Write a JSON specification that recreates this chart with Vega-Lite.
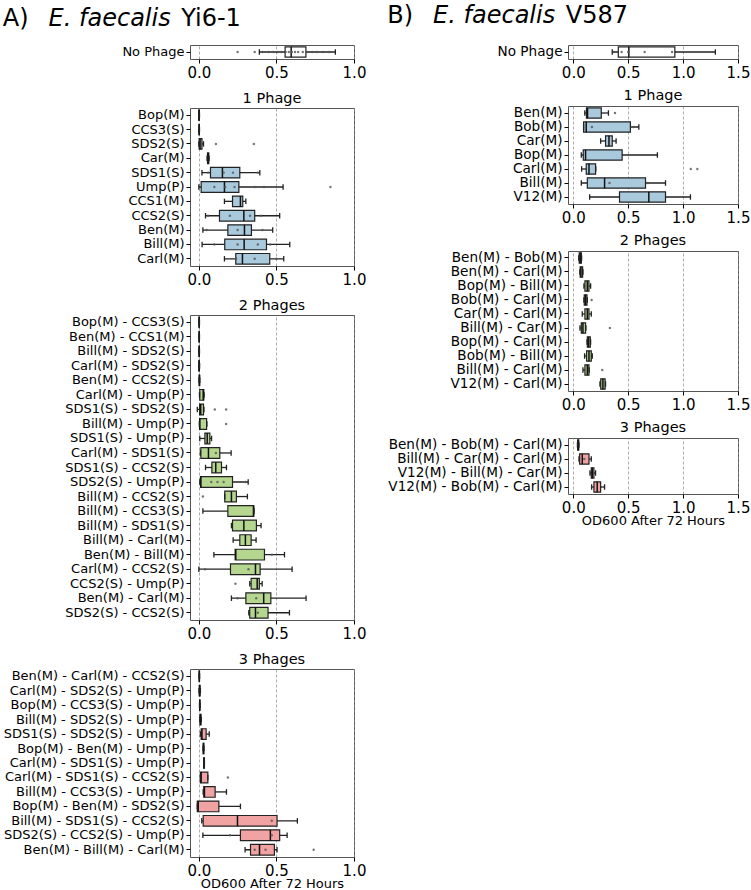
{
"$schema": "https://vega.github.io/schema/vega-lite/v6.json",
"padding": {"left": 2, "top": 4, "right": 0, "bottom": 0},
"background": "white",
"config": {
 "font": "DejaVu Sans",
 "view": {"stroke": "#555", "strokeWidth": 1},
 "title": {"fontSize": 14.5, "fontWeight": "normal", "offset": 2, "color": "black", "font": "DejaVu Sans"},
 "axis": {"labelFont": "DejaVu Sans", "titleFont": "DejaVu Sans", "labelColor": "black", "titleColor": "black", "tickColor": "black", "domain": false, "tickSize": 4, "labelPadding": 2, "tickWidth": 1},
 "axisX": {"labelFontSize": 15, "grid": true, "gridDash": [3, 2], "gridColor": "#888", "gridWidth": 0.7, "titleFontSize": 13, "titleFontWeight": "normal", "titlePadding": -1, "labelFlush": false, "labelOverlap": false, "labelBound": false},
 "axisY": {"labelFontSize": 13, "grid": false, "labelLimit": 400}
},
"datasets": {
 "stats": [
  {"s":"A","g":"0","n":"No Phage","lw":0.39,"q1":0.556,"med":0.595,"q3":0.69,"uw":0.88},
  {"s":"A","g":"1","n":"Bop(M)","lw":0,"q1":0,"med":0.001,"q3":0.003,"uw":0.004},
  {"s":"A","g":"1","n":"CCS3(S)","lw":0,"q1":0.001,"med":0.002,"q3":0.003,"uw":0.004},
  {"s":"A","g":"1","n":"SDS2(S)","lw":0,"q1":0.002,"med":0.008,"q3":0.02,"uw":0.03},
  {"s":"A","g":"1","n":"Car(M)","lw":0.053,"q1":0.056,"med":0.06,"q3":0.064,"uw":0.066},
  {"s":"A","g":"1","n":"SDS1(S)","lw":0.02,"q1":0.075,"med":0.152,"q3":0.264,"uw":0.393},
  {"s":"A","g":"1","n":"Ump(P)","lw":0.0,"q1":0.015,"med":0.165,"q3":0.258,"uw":0.543},
  {"s":"A","g":"1","n":"CCS1(M)","lw":0.165,"q1":0.217,"med":0.268,"q3":0.283,"uw":0.303},
  {"s":"A","g":"1","n":"CCS2(S)","lw":0.043,"q1":0.133,"med":0.29,"q3":0.36,"uw":0.521},
  {"s":"A","g":"1","n":"Ben(M)","lw":0.026,"q1":0.187,"med":0.294,"q3":0.339,"uw":0.476},
  {"s":"A","g":"1","n":"Bill(M)","lw":0.021,"q1":0.167,"med":0.292,"q3":0.436,"uw":0.586},
  {"s":"A","g":"1","n":"Carl(M)","lw":0.165,"q1":0.238,"med":0.281,"q3":0.457,"uw":0.547},
  {"s":"A","g":"2","n":"Bop(M) - CCS3(S)","lw":0,"q1":0.001,"med":0.002,"q3":0.003,"uw":0.004},
  {"s":"A","g":"2","n":"Ben(M) - CCS1(M)","lw":0,"q1":0.001,"med":0.002,"q3":0.003,"uw":0.004},
  {"s":"A","g":"2","n":"Bill(M) - SDS2(S)","lw":0,"q1":0.001,"med":0.002,"q3":0.003,"uw":0.004},
  {"s":"A","g":"2","n":"Carl(M) - SDS2(S)","lw":-0.001,"q1":0.0,"med":0.002,"q3":0.003,"uw":0.005},
  {"s":"A","g":"2","n":"Ben(M) - CCS2(S)","lw":0.001,"q1":0.002,"med":0.004,"q3":0.005,"uw":0.006},
  {"s":"A","g":"2","n":"Carl(M) - Ump(P)","lw":0.004,"q1":0.006,"med":0.028,"q3":0.032,"uw":0.034},
  {"s":"A","g":"2","n":"SDS1(S) - SDS2(S)","lw":-0.01,"q1":0.005,"med":0.012,"q3":0.03,"uw":0.033},
  {"s":"A","g":"2","n":"Bill(M) - Ump(P)","lw":0.003,"q1":0.005,"med":0.006,"q3":0.05,"uw":0.052},
  {"s":"A","g":"2","n":"SDS1(S) - Ump(P)","lw":0.006,"q1":0.039,"med":0.054,"q3":0.071,"uw":0.082},
  {"s":"A","g":"2","n":"Carl(M) - SDS1(S)","lw":0.01,"q1":0.013,"med":0.062,"q3":0.135,"uw":0.208},
  {"s":"A","g":"2","n":"SDS1(S) - CCS2(S)","lw":0.043,"q1":0.084,"med":0.109,"q3":0.146,"uw":0.178},
  {"s":"A","g":"2","n":"SDS2(S) - Ump(P)","lw":0.006,"q1":0.011,"med":0.013,"q3":0.217,"uw":0.318},
  {"s":"A","g":"2","n":"Bill(M) - CCS2(S)","lw":0.167,"q1":0.167,"med":0.21,"q3":0.242,"uw":0.313},
  {"s":"A","g":"2","n":"Bill(M) - CCS3(S)","lw":0.026,"q1":0.187,"med":0.352,"q3":0.354,"uw":0.356},
  {"s":"A","g":"2","n":"Bill(M) - SDS1(S)","lw":0.21,"q1":0.217,"med":0.29,"q3":0.371,"uw":0.401},
  {"s":"A","g":"2","n":"Bill(M) - Carl(M)","lw":0.221,"q1":0.264,"med":0.3,"q3":0.337,"uw":0.369},
  {"s":"A","g":"2","n":"Ben(M) - Bill(M)","lw":0.097,"q1":0.234,"med":0.238,"q3":0.423,"uw":0.552},
  {"s":"A","g":"2","n":"Carl(M) - CCS2(S)","lw":0.0,"q1":0.204,"med":0.365,"q3":0.395,"uw":0.601},
  {"s":"A","g":"2","n":"CCS2(S) - Ump(P)","lw":0.328,"q1":0.337,"med":0.376,"q3":0.39,"uw":0.408},
  {"s":"A","g":"2","n":"Ben(M) - Carl(M)","lw":0.21,"q1":0.303,"med":0.418,"q3":0.464,"uw":0.691},
  {"s":"A","g":"2","n":"SDS2(S) - CCS2(S)","lw":0.322,"q1":0.328,"med":0.365,"q3":0.446,"uw":0.584},
  {"s":"A","g":"3","n":"Ben(M) - Carl(M) - CCS2(S)","lw":0.001,"q1":0.002,"med":0.003,"q3":0.004,"uw":0.005},
  {"s":"A","g":"3","n":"Carl(M) - SDS2(S) - Ump(P)","lw":0.001,"q1":0.003,"med":0.005,"q3":0.008,"uw":0.01},
  {"s":"A","g":"3","n":"Bop(M) - CCS3(S) - Ump(P)","lw":0.004,"q1":0.005,"med":0.006,"q3":0.007,"uw":0.008},
  {"s":"A","g":"3","n":"Bill(M) - SDS2(S) - Ump(P)","lw":0.006,"q1":0.008,"med":0.01,"q3":0.014,"uw":0.016},
  {"s":"A","g":"3","n":"SDS1(S) - SDS2(S) - Ump(P)","lw":0.01,"q1":0.015,"med":0.02,"q3":0.047,"uw":0.067},
  {"s":"A","g":"3","n":"Bop(M) - Ben(M) - Ump(P)","lw":0.027,"q1":0.028,"med":0.03,"q3":0.032,"uw":0.033},
  {"s":"A","g":"3","n":"Carl(M) - SDS1(S) - Ump(P)","lw":0.031,"q1":0.032,"med":0.033,"q3":0.035,"uw":0.036},
  {"s":"A","g":"3","n":"Carl(M) - SDS1(S) - CCS2(S)","lw":0.01,"q1":0.01,"med":0.015,"q3":0.058,"uw":0.058},
  {"s":"A","g":"3","n":"Bill(M) - CCS3(S) - Ump(P)","lw":0.028,"q1":0.032,"med":0.036,"q3":0.105,"uw":0.178},
  {"s":"A","g":"3","n":"Bop(M) - Ben(M) - SDS2(S)","lw":-0.01,"q1":-0.01,"med":-0.004,"q3":0.129,"uw":0.268},
  {"s":"A","g":"3","n":"Bill(M) - SDS1(S) - CCS2(S)","lw":0.019,"q1":0.028,"med":0.249,"q3":0.504,"uw":0.635},
  {"s":"A","g":"3","n":"SDS2(S) - CCS2(S) - Ump(P)","lw":0.026,"q1":0.268,"med":0.461,"q3":0.521,"uw":0.569},
  {"s":"A","g":"3","n":"Ben(M) - Bill(M) - Carl(M)","lw":0.298,"q1":0.333,"med":0.391,"q3":0.487,"uw":0.504},
  {"s":"B","g":"0","n":"No Phage","lw":0.355,"q1":0.41,"med":0.506,"q3":0.925,"uw":1.294},
  {"s":"B","g":"1","n":"Ben(M)","lw":0.105,"q1":0.12,"med":0.13,"q3":0.255,"uw":0.32},
  {"s":"B","g":"1","n":"Bob(M)","lw":0.094,"q1":0.094,"med":0.118,"q3":0.52,"uw":0.597},
  {"s":"B","g":"1","n":"Car(M)","lw":0.249,"q1":0.294,"med":0.325,"q3":0.355,"uw":0.39},
  {"s":"B","g":"1","n":"Bop(M)","lw":0.073,"q1":0.091,"med":0.112,"q3":0.445,"uw":0.766},
  {"s":"B","g":"1","n":"Carl(M)","lw":0.076,"q1":0.118,"med":0.143,"q3":0.203,"uw":0.205},
  {"s":"B","g":"1","n":"Bill(M)","lw":0.073,"q1":0.128,"med":0.285,"q3":0.658,"uw":0.84},
  {"s":"B","g":"1","n":"V12(M)","lw":0.149,"q1":0.421,"med":0.688,"q3":0.84,"uw":1.067},
  {"s":"B","g":"2","n":"Ben(M) - Bob(M)","lw":0.05,"q1":0.054,"med":0.063,"q3":0.074,"uw":0.076},
  {"s":"B","g":"2","n":"Ben(M) - Carl(M)","lw":0.06,"q1":0.063,"med":0.07,"q3":0.085,"uw":0.088},
  {"s":"B","g":"2","n":"Bop(M) - Bill(M)","lw":0.097,"q1":0.106,"med":0.128,"q3":0.143,"uw":0.158},
  {"s":"B","g":"2","n":"Bob(M) - Carl(M)","lw":0.097,"q1":0.1,"med":0.112,"q3":0.125,"uw":0.128},
  {"s":"B","g":"2","n":"Car(M) - Carl(M)","lw":0.082,"q1":0.106,"med":0.128,"q3":0.143,"uw":0.164},
  {"s":"B","g":"2","n":"Bill(M) - Car(M)","lw":0.061,"q1":0.073,"med":0.088,"q3":0.112,"uw":0.115},
  {"s":"B","g":"2","n":"Bop(M) - Carl(M)","lw":0.125,"q1":0.128,"med":0.14,"q3":0.155,"uw":0.158},
  {"s":"B","g":"2","n":"Bob(M) - Bill(M)","lw":0.103,"q1":0.121,"med":0.143,"q3":0.164,"uw":0.173},
  {"s":"B","g":"2","n":"Bill(M) - Carl(M)","lw":0.088,"q1":0.106,"med":0.128,"q3":0.143,"uw":0.145},
  {"s":"B","g":"2","n":"V12(M) - Carl(M)","lw":0.243,"q1":0.25,"med":0.27,"q3":0.29,"uw":0.294},
  {"s":"B","g":"3","n":"Ben(M) - Bob(M) - Carl(M)","lw":0.038,"q1":0.04,"med":0.045,"q3":0.05,"uw":0.052},
  {"s":"B","g":"3","n":"Bill(M) - Car(M) - Carl(M)","lw":0.052,"q1":0.058,"med":0.082,"q3":0.143,"uw":0.164},
  {"s":"B","g":"3","n":"V12(M) - Bill(M) - Car(M)","lw":0.152,"q1":0.164,"med":0.173,"q3":0.188,"uw":0.203},
  {"s":"B","g":"3","n":"V12(M) - Bob(M) - Carl(M)","lw":0.167,"q1":0.188,"med":0.218,"q3":0.249,"uw":0.285}
 ],
 "pts": [
  {"s":"A","g":"0","n":"No Phage","v":0.25},{"s":"A","g":"0","n":"No Phage","v":0.36},{"s":"A","g":"0","n":"No Phage","v":0.41},
  {"s":"A","g":"0","n":"No Phage","v":0.45},{"s":"A","g":"0","n":"No Phage","v":0.48},{"s":"A","g":"0","n":"No Phage","v":0.51},
  {"s":"A","g":"0","n":"No Phage","v":0.53},{"s":"A","g":"0","n":"No Phage","v":0.56},{"s":"A","g":"0","n":"No Phage","v":0.58},
  {"s":"A","g":"0","n":"No Phage","v":0.6},{"s":"A","g":"0","n":"No Phage","v":0.62},{"s":"A","g":"0","n":"No Phage","v":0.64},
  {"s":"A","g":"0","n":"No Phage","v":0.67},{"s":"A","g":"0","n":"No Phage","v":0.7},{"s":"A","g":"0","n":"No Phage","v":0.73},
  {"s":"A","g":"0","n":"No Phage","v":0.76},{"s":"A","g":"0","n":"No Phage","v":0.8},{"s":"A","g":"0","n":"No Phage","v":0.84},
  {"s":"A","g":"1","n":"SDS2(S)","v":0.11},{"s":"A","g":"1","n":"SDS2(S)","v":0.354},
  {"s":"A","g":"1","n":"SDS1(S)","v":0.06},{"s":"A","g":"1","n":"SDS1(S)","v":0.16},{"s":"A","g":"1","n":"SDS1(S)","v":0.22},{"s":"A","g":"1","n":"SDS1(S)","v":0.38},
  {"s":"A","g":"1","n":"Ump(P)","v":0.1},{"s":"A","g":"1","n":"Ump(P)","v":0.17},{"s":"A","g":"1","n":"Ump(P)","v":0.23},{"s":"A","g":"1","n":"Ump(P)","v":0.36},{"s":"A","g":"1","n":"Ump(P)","v":0.42},{"s":"A","g":"1","n":"Ump(P)","v":0.848},
  {"s":"A","g":"1","n":"CCS2(S)","v":0.06},{"s":"A","g":"1","n":"CCS2(S)","v":0.2},{"s":"A","g":"1","n":"CCS2(S)","v":0.33},{"s":"A","g":"1","n":"CCS2(S)","v":0.4},
  {"s":"A","g":"1","n":"Ben(M)","v":0.05},{"s":"A","g":"1","n":"Ben(M)","v":0.25},{"s":"A","g":"1","n":"Ben(M)","v":0.41},
  {"s":"A","g":"1","n":"Bill(M)","v":0.1},{"s":"A","g":"1","n":"Bill(M)","v":0.25},{"s":"A","g":"1","n":"Bill(M)","v":0.38},{"s":"A","g":"1","n":"Bill(M)","v":0.46},
  {"s":"A","g":"1","n":"Carl(M)","v":0.24},{"s":"A","g":"1","n":"Carl(M)","v":0.36},{"s":"A","g":"1","n":"Carl(M)","v":0.5},
  {"s":"A","g":"2","n":"SDS1(S) - SDS2(S)","v":0.103},{"s":"A","g":"2","n":"SDS1(S) - SDS2(S)","v":0.176},
  {"s":"A","g":"2","n":"Bill(M) - Ump(P)","v":0.176},
  {"s":"A","g":"2","n":"Carl(M) - SDS1(S)","v":0.11},
  {"s":"A","g":"2","n":"SDS2(S) - Ump(P)","v":0.08},{"s":"A","g":"2","n":"SDS2(S) - Ump(P)","v":0.12},{"s":"A","g":"2","n":"SDS2(S) - Ump(P)","v":0.16},{"s":"A","g":"2","n":"SDS2(S) - Ump(P)","v":0.3},
  {"s":"A","g":"2","n":"Bill(M) - CCS2(S)","v":0.026},
  {"s":"A","g":"2","n":"Ben(M) - Bill(M)","v":0.47},
  {"s":"A","g":"2","n":"Carl(M) - CCS2(S)","v":0.04},{"s":"A","g":"2","n":"Carl(M) - CCS2(S)","v":0.32},
  {"s":"A","g":"2","n":"CCS2(S) - Ump(P)","v":0.236},
  {"s":"A","g":"2","n":"Ben(M) - Carl(M)","v":0.25},{"s":"A","g":"2","n":"Ben(M) - Carl(M)","v":0.37},
  {"s":"A","g":"2","n":"SDS2(S) - CCS2(S)","v":0.38},
  {"s":"A","g":"3","n":"Carl(M) - SDS1(S) - CCS2(S)","v":0.187},
  {"s":"A","g":"3","n":"Bill(M) - SDS1(S) - CCS2(S)","v":0.47},
  {"s":"A","g":"3","n":"SDS2(S) - CCS2(S) - Ump(P)","v":0.2},{"s":"A","g":"3","n":"SDS2(S) - CCS2(S) - Ump(P)","v":0.47},
  {"s":"A","g":"3","n":"Ben(M) - Bill(M) - Carl(M)","v":0.36},{"s":"A","g":"3","n":"Ben(M) - Bill(M) - Carl(M)","v":0.43},{"s":"A","g":"3","n":"Ben(M) - Bill(M) - Carl(M)","v":0.74},
  {"s":"B","g":"0","n":"No Phage","v":0.37},{"s":"B","g":"0","n":"No Phage","v":0.44},{"s":"B","g":"0","n":"No Phage","v":0.5},{"s":"B","g":"0","n":"No Phage","v":0.65},{"s":"B","g":"0","n":"No Phage","v":0.9},
  {"s":"B","g":"1","n":"Ben(M)","v":0.38},
  {"s":"B","g":"1","n":"Bob(M)","v":0.17},{"s":"B","g":"1","n":"Bob(M)","v":0.55},
  {"s":"B","g":"1","n":"Carl(M)","v":1.07},{"s":"B","g":"1","n":"Carl(M)","v":1.13},
  {"s":"B","g":"1","n":"Bill(M)","v":0.33},{"s":"B","g":"1","n":"Bill(M)","v":0.68},
  {"s":"B","g":"2","n":"Bob(M) - Carl(M)","v":0.167},
  {"s":"B","g":"2","n":"Bill(M) - Car(M)","v":0.333},
  {"s":"B","g":"2","n":"Bill(M) - Carl(M)","v":0.264},
  {"s":"B","g":"3","n":"Bill(M) - Car(M) - Carl(M)","v":0.1}
 ]
},
"spacing": 20,
"hconcat": [
 {
  "title": {"text": "A)\u00a0\u00a0\u00a0\u00a0\u00a0\u00a0\u00a0\u00a0\u00a0\u00a0\u00a0\u00a0\u00a0\u00a0\u00a0\u00a0\u00a0\u00a0\u00a0\u00a0Yi6-1", "subtitle": "\u200b\u00a0\u00a0\u00a0\u00a0\u00a0\u00a0E. faecalis", "fontSize": 24, "subtitleFontSize": 24, "subtitleFontStyle": "italic", "subtitleColor": "black", "subtitleFont": "DejaVu Sans", "subtitlePadding": -24, "fontWeight": "normal", "anchor": "start", "frame": "bounds", "offset": 14, "color": "black"},
  "spacing": 9,
  "vconcat": [
   {
    "width": 164, "height": 14,
    "data": {"name": "stats"},
    "transform": [{"filter": "datum.s==='A' && datum.g==='0'"}],
    "encoding": {"y": {"field": "n", "type": "nominal", "title": null, "scale": {"domain": ["No Phage"], "paddingInner": 0.26, "paddingOuter": 0.13}}},
    "layer": [
     {"mark": {"type": "rule", "color": "#222", "strokeWidth": 1.3}, "encoding": {"x": {"field": "lw", "type": "quantitative", "title": null, "scale": {"domain": [-0.057, 1.0], "nice": false, "zero": false}, "axis": {"values": [0, 0.5, 1], "format": ".1f"}}, "x2": {"field": "uw"}}},
     {"mark": {"type": "bar", "fill": "#ffffff", "stroke": "#222", "strokeWidth": 1.2}, "encoding": {"x": {"field": "q1", "type": "quantitative", "title": null, "scale": {"domain": [-0.057, 1.0], "nice": false, "zero": false}, "axis": {"values": [0, 0.5, 1], "format": ".1f"}}, "x2": {"field": "q3"}}},
     {"mark": {"type": "tick", "color": "#111", "opacity": 1, "thickness": 1.5, "size": 10.4}, "encoding": {"x": {"field": "med", "type": "quantitative", "title": null, "scale": {"domain": [-0.057, 1.0], "nice": false, "zero": false}, "axis": {"values": [0, 0.5, 1], "format": ".1f"}}}},
     {"mark": {"type": "tick", "color": "#222", "opacity": 1, "thickness": 1.3, "size": 5.5}, "encoding": {"x": {"field": "lw", "type": "quantitative", "title": null, "scale": {"domain": [-0.057, 1.0], "nice": false, "zero": false}, "axis": {"values": [0, 0.5, 1], "format": ".1f"}}}},
     {"mark": {"type": "tick", "color": "#222", "opacity": 1, "thickness": 1.3, "size": 5.5}, "encoding": {"x": {"field": "uw", "type": "quantitative", "title": null, "scale": {"domain": [-0.057, 1.0], "nice": false, "zero": false}, "axis": {"values": [0, 0.5, 1], "format": ".1f"}}}},
     {"data": {"name": "pts"}, "transform": [{"filter": "datum.s==='A' && datum.g==='0'"}], "mark": {"type": "circle", "size": 6, "color": "#555", "opacity": 0.8}, "encoding": {"x": {"field": "v", "type": "quantitative", "title": null, "scale": {"domain": [-0.057, 1.0], "nice": false, "zero": false}, "axis": {"values": [0, 0.5, 1], "format": ".1f"}}}}
    ]
   },
   {
    "width": 164, "height": 158,
    "title": "1 Phage",
    "data": {"name": "stats"},
    "transform": [{"filter": "datum.s==='A' && datum.g==='1'"}],
    "encoding": {"y": {"field": "n", "type": "nominal", "title": null, "scale": {"domain": ["Bop(M)","CCS3(S)","SDS2(S)","Car(M)","SDS1(S)","Ump(P)","CCS1(M)","CCS2(S)","Ben(M)","Bill(M)","Carl(M)"], "paddingInner": 0.26, "paddingOuter": 0.13}}},
    "layer": [
     {"mark": {"type": "rule", "color": "#222", "strokeWidth": 1.3}, "encoding": {"x": {"field": "lw", "type": "quantitative", "title": null, "scale": {"domain": [-0.057, 1.0], "nice": false, "zero": false}, "axis": {"values": [0, 0.5, 1], "format": ".1f"}}, "x2": {"field": "uw"}}},
     {"mark": {"type": "bar", "fill": "#a9c9dd", "stroke": "#222", "strokeWidth": 1.2}, "encoding": {"x": {"field": "q1", "type": "quantitative", "title": null, "scale": {"domain": [-0.057, 1.0], "nice": false, "zero": false}, "axis": {"values": [0, 0.5, 1], "format": ".1f"}}, "x2": {"field": "q3"}}},
     {"mark": {"type": "tick", "color": "#111", "opacity": 1, "thickness": 1.5, "size": 10.6}, "encoding": {"x": {"field": "med", "type": "quantitative", "title": null, "scale": {"domain": [-0.057, 1.0], "nice": false, "zero": false}, "axis": {"values": [0, 0.5, 1], "format": ".1f"}}}},
     {"mark": {"type": "tick", "color": "#222", "opacity": 1, "thickness": 1.3, "size": 5.5}, "encoding": {"x": {"field": "lw", "type": "quantitative", "title": null, "scale": {"domain": [-0.057, 1.0], "nice": false, "zero": false}, "axis": {"values": [0, 0.5, 1], "format": ".1f"}}}},
     {"mark": {"type": "tick", "color": "#222", "opacity": 1, "thickness": 1.3, "size": 5.5}, "encoding": {"x": {"field": "uw", "type": "quantitative", "title": null, "scale": {"domain": [-0.057, 1.0], "nice": false, "zero": false}, "axis": {"values": [0, 0.5, 1], "format": ".1f"}}}},
     {"data": {"name": "pts"}, "transform": [{"filter": "datum.s==='A' && datum.g==='1'"}], "mark": {"type": "circle", "size": 6, "color": "#555", "opacity": 0.8}, "encoding": {"x": {"field": "v", "type": "quantitative", "title": null, "scale": {"domain": [-0.057, 1.0], "nice": false, "zero": false}, "axis": {"values": [0, 0.5, 1], "format": ".1f"}}}}
    ]
   },
   {
    "width": 164, "height": 305,
    "title": "2 Phages",
    "data": {"name": "stats"},
    "transform": [{"filter": "datum.s==='A' && datum.g==='2'"}],
    "encoding": {"y": {"field": "n", "type": "nominal", "title": null, "scale": {"domain": ["Bop(M) - CCS3(S)","Ben(M) - CCS1(M)","Bill(M) - SDS2(S)","Carl(M) - SDS2(S)","Ben(M) - CCS2(S)","Carl(M) - Ump(P)","SDS1(S) - SDS2(S)","Bill(M) - Ump(P)","SDS1(S) - Ump(P)","Carl(M) - SDS1(S)","SDS1(S) - CCS2(S)","SDS2(S) - Ump(P)","Bill(M) - CCS2(S)","Bill(M) - CCS3(S)","Bill(M) - SDS1(S)","Bill(M) - Carl(M)","Ben(M) - Bill(M)","Carl(M) - CCS2(S)","CCS2(S) - Ump(P)","Ben(M) - Carl(M)","SDS2(S) - CCS2(S)"], "paddingInner": 0.26, "paddingOuter": 0.13}}},
    "layer": [
     {"mark": {"type": "rule", "color": "#222", "strokeWidth": 1.3}, "encoding": {"x": {"field": "lw", "type": "quantitative", "title": null, "scale": {"domain": [-0.057, 1.0], "nice": false, "zero": false}, "axis": {"values": [0, 0.5, 1], "format": ".1f"}}, "x2": {"field": "uw"}}},
     {"mark": {"type": "bar", "fill": "#b5d68f", "stroke": "#222", "strokeWidth": 1.2}, "encoding": {"x": {"field": "q1", "type": "quantitative", "title": null, "scale": {"domain": [-0.057, 1.0], "nice": false, "zero": false}, "axis": {"values": [0, 0.5, 1], "format": ".1f"}}, "x2": {"field": "q3"}}},
     {"mark": {"type": "tick", "color": "#111", "opacity": 1, "thickness": 1.5, "size": 10.7}, "encoding": {"x": {"field": "med", "type": "quantitative", "title": null, "scale": {"domain": [-0.057, 1.0], "nice": false, "zero": false}, "axis": {"values": [0, 0.5, 1], "format": ".1f"}}}},
     {"mark": {"type": "tick", "color": "#222", "opacity": 1, "thickness": 1.3, "size": 5.5}, "encoding": {"x": {"field": "lw", "type": "quantitative", "title": null, "scale": {"domain": [-0.057, 1.0], "nice": false, "zero": false}, "axis": {"values": [0, 0.5, 1], "format": ".1f"}}}},
     {"mark": {"type": "tick", "color": "#222", "opacity": 1, "thickness": 1.3, "size": 5.5}, "encoding": {"x": {"field": "uw", "type": "quantitative", "title": null, "scale": {"domain": [-0.057, 1.0], "nice": false, "zero": false}, "axis": {"values": [0, 0.5, 1], "format": ".1f"}}}},
     {"data": {"name": "pts"}, "transform": [{"filter": "datum.s==='A' && datum.g==='2'"}], "mark": {"type": "circle", "size": 6, "color": "#555", "opacity": 0.8}, "encoding": {"x": {"field": "v", "type": "quantitative", "title": null, "scale": {"domain": [-0.057, 1.0], "nice": false, "zero": false}, "axis": {"values": [0, 0.5, 1], "format": ".1f"}}}}
    ]
   },
   {
    "width": 164, "height": 188,
    "title": "3 Phages",
    "data": {"name": "stats"},
    "transform": [{"filter": "datum.s==='A' && datum.g==='3'"}],
    "encoding": {"y": {"field": "n", "type": "nominal", "title": null, "scale": {"domain": ["Ben(M) - Carl(M) - CCS2(S)","Carl(M) - SDS2(S) - Ump(P)","Bop(M) - CCS3(S) - Ump(P)","Bill(M) - SDS2(S) - Ump(P)","SDS1(S) - SDS2(S) - Ump(P)","Bop(M) - Ben(M) - Ump(P)","Carl(M) - SDS1(S) - Ump(P)","Carl(M) - SDS1(S) - CCS2(S)","Bill(M) - CCS3(S) - Ump(P)","Bop(M) - Ben(M) - SDS2(S)","Bill(M) - SDS1(S) - CCS2(S)","SDS2(S) - CCS2(S) - Ump(P)","Ben(M) - Bill(M) - Carl(M)"], "paddingInner": 0.26, "paddingOuter": 0.13}}},
    "layer": [
     {"mark": {"type": "rule", "color": "#222", "strokeWidth": 1.3}, "encoding": {"x": {"field": "lw", "type": "quantitative", "title": "OD600 After 72 Hours", "scale": {"domain": [-0.057, 1.0], "nice": false, "zero": false}, "axis": {"values": [0, 0.5, 1], "format": ".1f"}}, "x2": {"field": "uw"}}},
     {"mark": {"type": "bar", "fill": "#f0a3a2", "stroke": "#222", "strokeWidth": 1.2}, "encoding": {"x": {"field": "q1", "type": "quantitative", "title": "OD600 After 72 Hours", "scale": {"domain": [-0.057, 1.0], "nice": false, "zero": false}, "axis": {"values": [0, 0.5, 1], "format": ".1f"}}, "x2": {"field": "q3"}}},
     {"mark": {"type": "tick", "color": "#111", "opacity": 1, "thickness": 1.5, "size": 10.7}, "encoding": {"x": {"field": "med", "type": "quantitative", "title": "OD600 After 72 Hours", "scale": {"domain": [-0.057, 1.0], "nice": false, "zero": false}, "axis": {"values": [0, 0.5, 1], "format": ".1f"}}}},
     {"mark": {"type": "tick", "color": "#222", "opacity": 1, "thickness": 1.3, "size": 5.5}, "encoding": {"x": {"field": "lw", "type": "quantitative", "title": "OD600 After 72 Hours", "scale": {"domain": [-0.057, 1.0], "nice": false, "zero": false}, "axis": {"values": [0, 0.5, 1], "format": ".1f"}}}},
     {"mark": {"type": "tick", "color": "#222", "opacity": 1, "thickness": 1.3, "size": 5.5}, "encoding": {"x": {"field": "uw", "type": "quantitative", "title": "OD600 After 72 Hours", "scale": {"domain": [-0.057, 1.0], "nice": false, "zero": false}, "axis": {"values": [0, 0.5, 1], "format": ".1f"}}}},
     {"data": {"name": "pts"}, "transform": [{"filter": "datum.s==='A' && datum.g==='3'"}], "mark": {"type": "circle", "size": 6, "color": "#555", "opacity": 0.8}, "encoding": {"x": {"field": "v", "type": "quantitative", "title": "OD600 After 72 Hours", "scale": {"domain": [-0.057, 1.0], "nice": false, "zero": false}, "axis": {"values": [0, 0.5, 1], "format": ".1f"}}}}
    ]
   }
  ]
 },
 {
  "title": {"text": "B)\u00a0\u00a0\u00a0\u00a0\u00a0\u00a0\u00a0\u00a0\u00a0\u00a0\u00a0\u00a0\u00a0\u00a0\u00a0\u00a0\u00a0\u00a0\u00a0\u00a0V587", "subtitle": "\u200b\u00a0\u00a0\u00a0\u00a0\u00a0\u00a0E. faecalis", "fontSize": 24, "subtitleFontSize": 24, "subtitleFontStyle": "italic", "subtitleColor": "black", "subtitleFont": "DejaVu Sans", "subtitlePadding": -24, "fontWeight": "normal", "anchor": "start", "frame": "bounds", "offset": 16, "color": "black"},
  "spacing": 6,
  "vconcat": [
   {
    "width": 170, "height": 14,
    "data": {"name": "stats"},
    "transform": [{"filter": "datum.s==='B' && datum.g==='0'"}],
    "encoding": {"y": {"field": "n", "type": "nominal", "title": null, "axis": {"labelFontSize": 13.6}, "scale": {"domain": ["No Phage"], "paddingInner": 0.26, "paddingOuter": 0.13}}},
    "layer": [
     {"mark": {"type": "rule", "color": "#222", "strokeWidth": 1.3}, "encoding": {"x": {"field": "lw", "type": "quantitative", "title": null, "scale": {"domain": [-0.048, 1.5], "nice": false, "zero": false}, "axis": {"values": [0, 0.5, 1, 1.5], "format": ".1f"}}, "x2": {"field": "uw"}}},
     {"mark": {"type": "bar", "fill": "#ffffff", "stroke": "#222", "strokeWidth": 1.2}, "encoding": {"x": {"field": "q1", "type": "quantitative", "title": null, "scale": {"domain": [-0.048, 1.5], "nice": false, "zero": false}, "axis": {"values": [0, 0.5, 1, 1.5], "format": ".1f"}}, "x2": {"field": "q3"}}},
     {"mark": {"type": "tick", "color": "#111", "opacity": 1, "thickness": 1.5, "size": 10.4}, "encoding": {"x": {"field": "med", "type": "quantitative", "title": null, "scale": {"domain": [-0.048, 1.5], "nice": false, "zero": false}, "axis": {"values": [0, 0.5, 1, 1.5], "format": ".1f"}}}},
     {"mark": {"type": "tick", "color": "#222", "opacity": 1, "thickness": 1.3, "size": 5.5}, "encoding": {"x": {"field": "lw", "type": "quantitative", "title": null, "scale": {"domain": [-0.048, 1.5], "nice": false, "zero": false}, "axis": {"values": [0, 0.5, 1, 1.5], "format": ".1f"}}}},
     {"mark": {"type": "tick", "color": "#222", "opacity": 1, "thickness": 1.3, "size": 5.5}, "encoding": {"x": {"field": "uw", "type": "quantitative", "title": null, "scale": {"domain": [-0.048, 1.5], "nice": false, "zero": false}, "axis": {"values": [0, 0.5, 1, 1.5], "format": ".1f"}}}},
     {"data": {"name": "pts"}, "transform": [{"filter": "datum.s==='B' && datum.g==='0'"}], "mark": {"type": "circle", "size": 6, "color": "#555", "opacity": 0.8}, "encoding": {"x": {"field": "v", "type": "quantitative", "title": null, "scale": {"domain": [-0.048, 1.5], "nice": false, "zero": false}, "axis": {"values": [0, 0.5, 1, 1.5], "format": ".1f"}}}}
    ]
   },
   {
    "width": 170, "height": 98,
    "title": "1 Phage",
    "data": {"name": "stats"},
    "transform": [{"filter": "datum.s==='B' && datum.g==='1'"}],
    "encoding": {"y": {"field": "n", "type": "nominal", "title": null, "axis": {"labelFontSize": 13.6}, "scale": {"domain": ["Ben(M)","Bob(M)","Car(M)","Bop(M)","Carl(M)","Bill(M)","V12(M)"], "paddingInner": 0.26, "paddingOuter": 0.13}}},
    "layer": [
     {"mark": {"type": "rule", "color": "#222", "strokeWidth": 1.3}, "encoding": {"x": {"field": "lw", "type": "quantitative", "title": null, "scale": {"domain": [-0.048, 1.5], "nice": false, "zero": false}, "axis": {"values": [0, 0.5, 1, 1.5], "format": ".1f"}}, "x2": {"field": "uw"}}},
     {"mark": {"type": "bar", "fill": "#a9c9dd", "stroke": "#222", "strokeWidth": 1.2}, "encoding": {"x": {"field": "q1", "type": "quantitative", "title": null, "scale": {"domain": [-0.048, 1.5], "nice": false, "zero": false}, "axis": {"values": [0, 0.5, 1, 1.5], "format": ".1f"}}, "x2": {"field": "q3"}}},
     {"mark": {"type": "tick", "color": "#111", "opacity": 1, "thickness": 1.5, "size": 10.4}, "encoding": {"x": {"field": "med", "type": "quantitative", "title": null, "scale": {"domain": [-0.048, 1.5], "nice": false, "zero": false}, "axis": {"values": [0, 0.5, 1, 1.5], "format": ".1f"}}}},
     {"mark": {"type": "tick", "color": "#222", "opacity": 1, "thickness": 1.3, "size": 5.5}, "encoding": {"x": {"field": "lw", "type": "quantitative", "title": null, "scale": {"domain": [-0.048, 1.5], "nice": false, "zero": false}, "axis": {"values": [0, 0.5, 1, 1.5], "format": ".1f"}}}},
     {"mark": {"type": "tick", "color": "#222", "opacity": 1, "thickness": 1.3, "size": 5.5}, "encoding": {"x": {"field": "uw", "type": "quantitative", "title": null, "scale": {"domain": [-0.048, 1.5], "nice": false, "zero": false}, "axis": {"values": [0, 0.5, 1, 1.5], "format": ".1f"}}}},
     {"data": {"name": "pts"}, "transform": [{"filter": "datum.s==='B' && datum.g==='1'"}], "mark": {"type": "circle", "size": 6, "color": "#555", "opacity": 0.8}, "encoding": {"x": {"field": "v", "type": "quantitative", "title": null, "scale": {"domain": [-0.048, 1.5], "nice": false, "zero": false}, "axis": {"values": [0, 0.5, 1, 1.5], "format": ".1f"}}}}
    ]
   },
   {
    "width": 170, "height": 140,
    "title": "2 Phages",
    "data": {"name": "stats"},
    "transform": [{"filter": "datum.s==='B' && datum.g==='2'"}],
    "encoding": {"y": {"field": "n", "type": "nominal", "title": null, "axis": {"labelFontSize": 13.6}, "scale": {"domain": ["Ben(M) - Bob(M)","Ben(M) - Carl(M)","Bop(M) - Bill(M)","Bob(M) - Carl(M)","Car(M) - Carl(M)","Bill(M) - Car(M)","Bop(M) - Carl(M)","Bob(M) - Bill(M)","Bill(M) - Carl(M)","V12(M) - Carl(M)"], "paddingInner": 0.26, "paddingOuter": 0.13}}},
    "layer": [
     {"mark": {"type": "rule", "color": "#222", "strokeWidth": 1.3}, "encoding": {"x": {"field": "lw", "type": "quantitative", "title": null, "scale": {"domain": [-0.048, 1.5], "nice": false, "zero": false}, "axis": {"values": [0, 0.5, 1, 1.5], "format": ".1f"}}, "x2": {"field": "uw"}}},
     {"mark": {"type": "bar", "fill": "#b5d68f", "stroke": "#222", "strokeWidth": 1.2}, "encoding": {"x": {"field": "q1", "type": "quantitative", "title": null, "scale": {"domain": [-0.048, 1.5], "nice": false, "zero": false}, "axis": {"values": [0, 0.5, 1, 1.5], "format": ".1f"}}, "x2": {"field": "q3"}}},
     {"mark": {"type": "tick", "color": "#111", "opacity": 1, "thickness": 1.5, "size": 10.4}, "encoding": {"x": {"field": "med", "type": "quantitative", "title": null, "scale": {"domain": [-0.048, 1.5], "nice": false, "zero": false}, "axis": {"values": [0, 0.5, 1, 1.5], "format": ".1f"}}}},
     {"mark": {"type": "tick", "color": "#222", "opacity": 1, "thickness": 1.3, "size": 5.5}, "encoding": {"x": {"field": "lw", "type": "quantitative", "title": null, "scale": {"domain": [-0.048, 1.5], "nice": false, "zero": false}, "axis": {"values": [0, 0.5, 1, 1.5], "format": ".1f"}}}},
     {"mark": {"type": "tick", "color": "#222", "opacity": 1, "thickness": 1.3, "size": 5.5}, "encoding": {"x": {"field": "uw", "type": "quantitative", "title": null, "scale": {"domain": [-0.048, 1.5], "nice": false, "zero": false}, "axis": {"values": [0, 0.5, 1, 1.5], "format": ".1f"}}}},
     {"data": {"name": "pts"}, "transform": [{"filter": "datum.s==='B' && datum.g==='2'"}], "mark": {"type": "circle", "size": 6, "color": "#555", "opacity": 0.8}, "encoding": {"x": {"field": "v", "type": "quantitative", "title": null, "scale": {"domain": [-0.048, 1.5], "nice": false, "zero": false}, "axis": {"values": [0, 0.5, 1, 1.5], "format": ".1f"}}}}
    ]
   },
   {
    "width": 170, "height": 56,
    "title": "3 Phages",
    "data": {"name": "stats"},
    "transform": [{"filter": "datum.s==='B' && datum.g==='3'"}],
    "encoding": {"y": {"field": "n", "type": "nominal", "title": null, "axis": {"labelFontSize": 13.6}, "scale": {"domain": ["Ben(M) - Bob(M) - Carl(M)","Bill(M) - Car(M) - Carl(M)","V12(M) - Bill(M) - Car(M)","V12(M) - Bob(M) - Carl(M)"], "paddingInner": 0.26, "paddingOuter": 0.13}}},
    "layer": [
     {"mark": {"type": "rule", "color": "#222", "strokeWidth": 1.3}, "encoding": {"x": {"field": "lw", "type": "quantitative", "title": "OD600 After 72 Hours", "scale": {"domain": [-0.048, 1.5], "nice": false, "zero": false}, "axis": {"values": [0, 0.5, 1, 1.5], "format": ".1f"}}, "x2": {"field": "uw"}}},
     {"mark": {"type": "bar", "fill": "#f0a3a2", "stroke": "#222", "strokeWidth": 1.2}, "encoding": {"x": {"field": "q1", "type": "quantitative", "title": "OD600 After 72 Hours", "scale": {"domain": [-0.048, 1.5], "nice": false, "zero": false}, "axis": {"values": [0, 0.5, 1, 1.5], "format": ".1f"}}, "x2": {"field": "q3"}}},
     {"mark": {"type": "tick", "color": "#111", "opacity": 1, "thickness": 1.5, "size": 10.4}, "encoding": {"x": {"field": "med", "type": "quantitative", "title": "OD600 After 72 Hours", "scale": {"domain": [-0.048, 1.5], "nice": false, "zero": false}, "axis": {"values": [0, 0.5, 1, 1.5], "format": ".1f"}}}},
     {"mark": {"type": "tick", "color": "#222", "opacity": 1, "thickness": 1.3, "size": 5.5}, "encoding": {"x": {"field": "lw", "type": "quantitative", "title": "OD600 After 72 Hours", "scale": {"domain": [-0.048, 1.5], "nice": false, "zero": false}, "axis": {"values": [0, 0.5, 1, 1.5], "format": ".1f"}}}},
     {"mark": {"type": "tick", "color": "#222", "opacity": 1, "thickness": 1.3, "size": 5.5}, "encoding": {"x": {"field": "uw", "type": "quantitative", "title": "OD600 After 72 Hours", "scale": {"domain": [-0.048, 1.5], "nice": false, "zero": false}, "axis": {"values": [0, 0.5, 1, 1.5], "format": ".1f"}}}},
     {"data": {"name": "pts"}, "transform": [{"filter": "datum.s==='B' && datum.g==='3'"}], "mark": {"type": "circle", "size": 6, "color": "#555", "opacity": 0.8}, "encoding": {"x": {"field": "v", "type": "quantitative", "title": "OD600 After 72 Hours", "scale": {"domain": [-0.048, 1.5], "nice": false, "zero": false}, "axis": {"values": [0, 0.5, 1, 1.5], "format": ".1f"}}}}
    ]
   }
  ]
 }
]
}
